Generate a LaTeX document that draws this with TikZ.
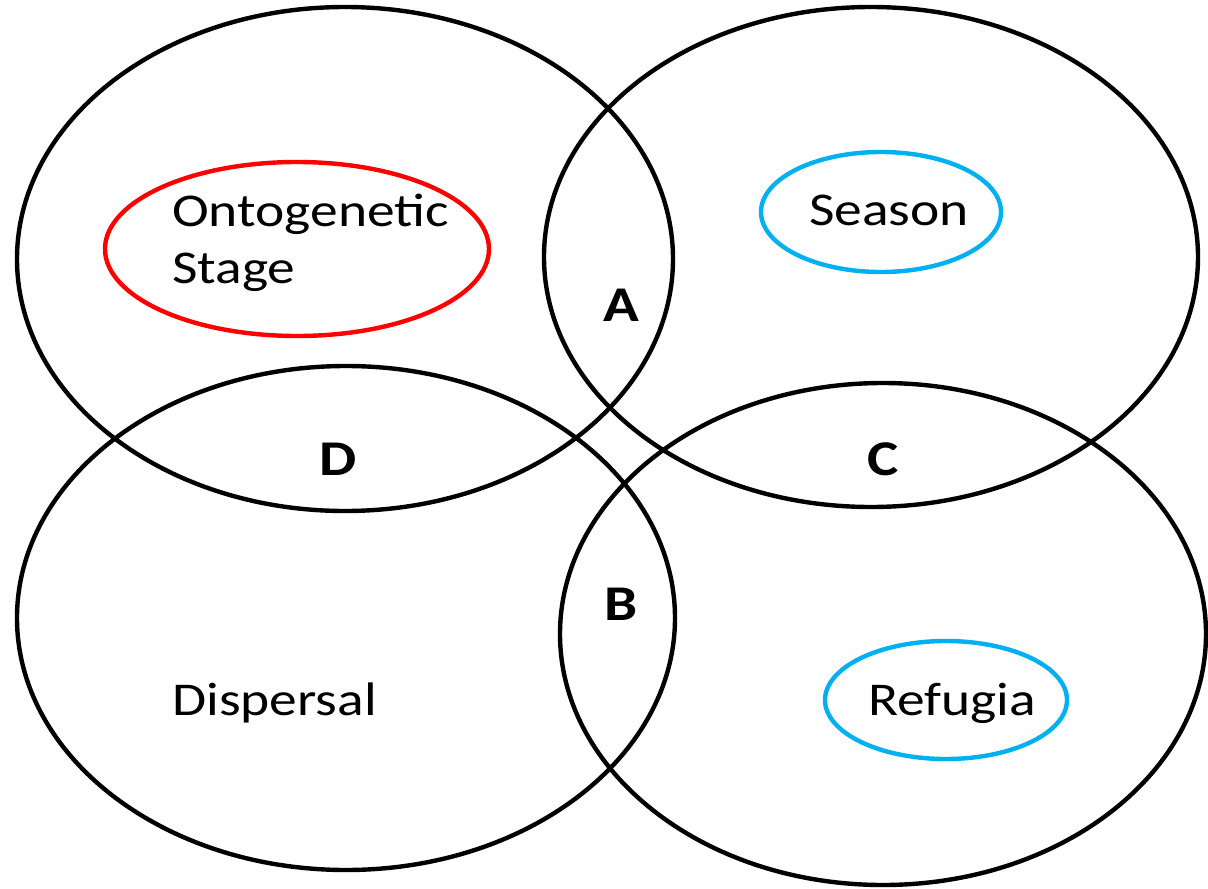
\documentclass[tikz,border=0pt]{standalone}
\usepackage{fontspec}
\setmainfont{Carlito}
\newfontfamily\lab[FakeStretch=1.18]{Carlito}
\definecolor{ored}{RGB}{255,0,0}
\definecolor{oblue}{RGB}{0,176,240}
\begin{document}
\begin{tikzpicture}[x=1pt,y=-1pt,
  big/.style={draw=black,line width=4.4pt},
  inner/.style={line width=4.4pt},
  txt/.style={font=\lab\fontsize{47}{57}\selectfont,inner sep=0pt},
  bold/.style={font=\lab\fontsize{50}{60}\selectfont\bfseries,inner sep=0pt}]
\useasboundingbox (0,0) rectangle (1208,889);
\fill[white] (0,0) rectangle (1208,889);
% large ellipses
\draw[big] (345,259) ellipse [x radius=328, y radius=252];
\draw[big] (871,257) ellipse [x radius=327, y radius=250];
\draw[big] (346,618) ellipse [x radius=329, y radius=252];
\draw[big] (883,634) ellipse [x radius=323, y radius=251];
% highlighted ellipses
\draw[inner,draw=ored] (297,249) ellipse [x radius=192, y radius=87];
\draw[inner,draw=oblue] (881,212) ellipse [x radius=120, y radius=60];
\draw[inner,draw=oblue] (946,700) ellipse [x radius=121, y radius=59];
% labels
\node[txt,anchor=base west,align=left] (onto) at (172,283) {Ontogenetic\\Stage};
\node[txt,anchor=base] (season) at (889,225) {Season};
\node[txt,anchor=base west] (disp) at (172,715) {Dispersal};
\node[txt,anchor=base] (ref) at (952,715) {Refugia};
\node[bold,anchor=base] (A) at (621,321) {A};
\node[bold,anchor=base] (B) at (621,620) {B};
\node[bold,anchor=base] (C) at (883,475) {C};
\node[bold,anchor=base] (D) at (338,475) {D};
\end{tikzpicture}
\end{document}
